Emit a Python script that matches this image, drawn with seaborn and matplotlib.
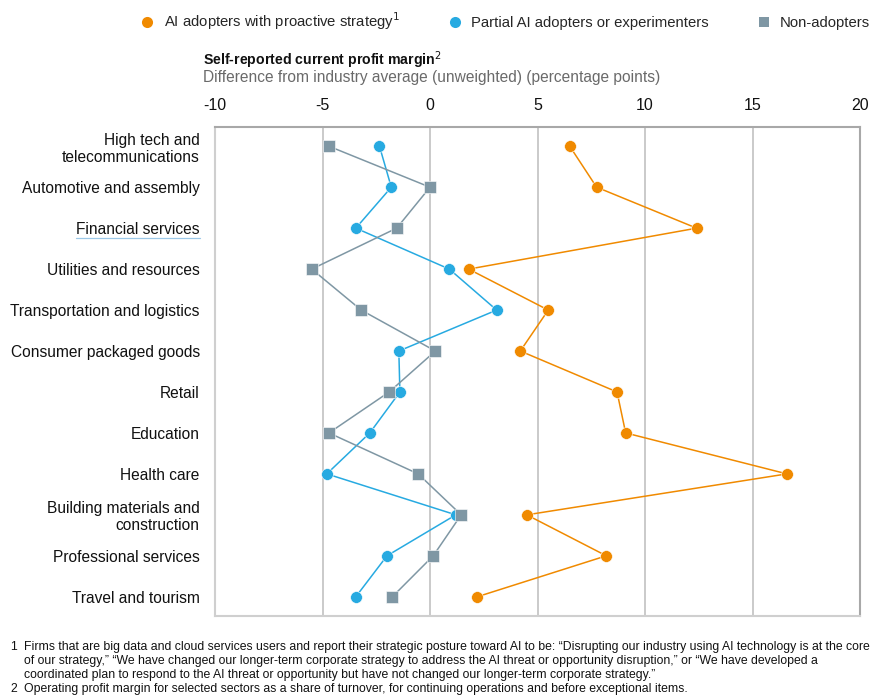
import matplotlib
matplotlib.use("Agg")
import matplotlib.pyplot as plt
from matplotlib.lines import Line2D
import seaborn as sns
import pandas as pd

sectors = [
    "High tech and\ntelecommunications",
    "Automotive and assembly",
    "Financial services",
    "Utilities and resources",
    "Transportation and logistics",
    "Consumer packaged goods",
    "Retail",
    "Education",
    "Health care",
    "Building materials and\nconstruction",
    "Professional services",
    "Travel and tourism",
]
proactive = [6.5, 7.75, 12.4, 1.8, 5.5, 4.2, 8.7, 9.1, 16.6, 4.5, 8.2, 2.2]
partial = [-2.35, -1.8, -3.45, 0.9, 3.1, -1.45, -1.4, -2.8, -4.8, 1.2, -2.0, -3.45]
non_adopters = [-4.7, 0.0, -1.55, -5.5, -3.2, 0.25, -1.9, -4.7, -0.55, 1.45, 0.15, -1.75]
x_ticks = [-10, -5, 0, 5, 10, 15, 20]

groups = [
    "AI adopters with proactive strategy$^1$",
    "Partial AI adopters or experimenters",
    "Non-adopters",
]
colors = ["#F08A00", "#27AAE1", "#7F97A4"]
markers = ["o", "o", "s"]
msizes = [8.5, 8.5, 8.0]

sns.set_style("white")
plt.rcParams["font.family"] = ["Liberation Sans", "DejaVu Sans"]

rows = []
for g, vals in zip(groups, [proactive, partial, non_adopters]):
    for i, v in enumerate(vals):
        rows.append({"group": g, "pos": i, "value": v})
df = pd.DataFrame(rows)

fig = plt.figure(figsize=(8.72, 6.95), dpi=100)
ax = fig.add_axes([215 / 872, 1 - 616 / 695, (860 - 215) / 872, (616 - 127) / 695])

for x in x_ticks[1:]:
    ax.axvline(x, color="#c6c6c6", lw=1.3, zorder=0)

for k in range(3):
    sub = df[df["group"] == groups[k]]
    sns.lineplot(
        data=sub, x="value", y="pos", orient="y", sort=False, ax=ax,
        color=colors[k], lw=1.1, marker=markers[k], markersize=msizes[k],
        markeredgecolor="white", markeredgewidth=0.4, legend=False,
        zorder=3 + k,
    )

ax.set_xlim(-10, 20)
ax.set_ylim(11.47, -0.47)
ax.xaxis.tick_top()
ax.set_xticks(x_ticks)
ax.set_xticklabels([str(t) for t in x_ticks], fontsize=11.5, color="#111111")
ax.set_yticks(range(len(sectors)))
ax.set_yticklabels(sectors, fontsize=11.2, color="#111111", linespacing=1.15)
ax.tick_params(axis="both", length=0)
ax.tick_params(axis="x", pad=10)
ax.tick_params(axis="y", pad=11)
ax.set_xlabel("")
ax.set_ylabel("")
for side in ["left", "bottom"]:
    ax.spines[side].set_color("#cfcfcf")
    ax.spines[side].set_linewidth(1.5)
for side in ["top", "right"]:
    ax.spines[side].set_color("#a8a8a8")
    ax.spines[side].set_linewidth(1.5)

# underline under the linked sector label
fig.canvas.draw()
renderer = fig.canvas.get_renderer()
lab = ax.get_yticklabels()[2]
bb = lab.get_window_extent(renderer).transformed(fig.transFigure.inverted())
fig.add_artist(Line2D([bb.x0, bb.x1], [bb.y0 - 0.001, bb.y0 - 0.001],
                      transform=fig.transFigure, color="#9cc8e8", lw=0.9))

# title block
fig.text(203 / 872, 1 - 60 / 695, "Self-reported current profit margin$^2$",
         fontsize=10.2, fontweight="bold", color="#111111", va="center", ha="left")
fig.text(203 / 872, 1 - 77.5 / 695,
         "Difference from industry average (unweighted) (percentage points)",
         fontsize=11.2, color="#6a6a6a", va="center", ha="left")

# legend
handles = [
    Line2D([], [], ls="none", marker=markers[k], color=colors[k],
           markersize=msizes[k] - 0.5, markeredgewidth=0)
    for k in range(3)
]
fig.legend(handles, groups, loc="center right", bbox_to_anchor=(870 / 872, 1 - 21 / 695),
           ncol=3, frameon=False, fontsize=10.7, handletextpad=0.6,
           columnspacing=3.2, handlelength=1.0, borderaxespad=0, borderpad=0)

# footnotes
notes = [
    (647, "1", "Firms that are big data and cloud services users and report their strategic posture toward AI to be: \u201cDisrupting our industry using AI technology is at the core"),
    (661, "", "of our strategy,\u201d \u201cWe have changed our longer-term corporate strategy to address the AI threat or opportunity disruption,\u201d or \u201cWe have developed a"),
    (675, "", "coordinated plan to respond to the AI threat or opportunity but have not changed our longer-term corporate strategy.\u201d"),
    (689, "2", "Operating profit margin for selected sectors as a share of turnover, for continuing operations and before exceptional items."),
]
for y, num, txt in notes:
    if num:
        fig.text(10 / 872, 1 - y / 695, num, fontsize=8.8, color="#111111", va="center")
    fig.text(24 / 872, 1 - y / 695, txt, fontsize=8.8, color="#111111", va="center")

fig.savefig("out.png", dpi=100)
